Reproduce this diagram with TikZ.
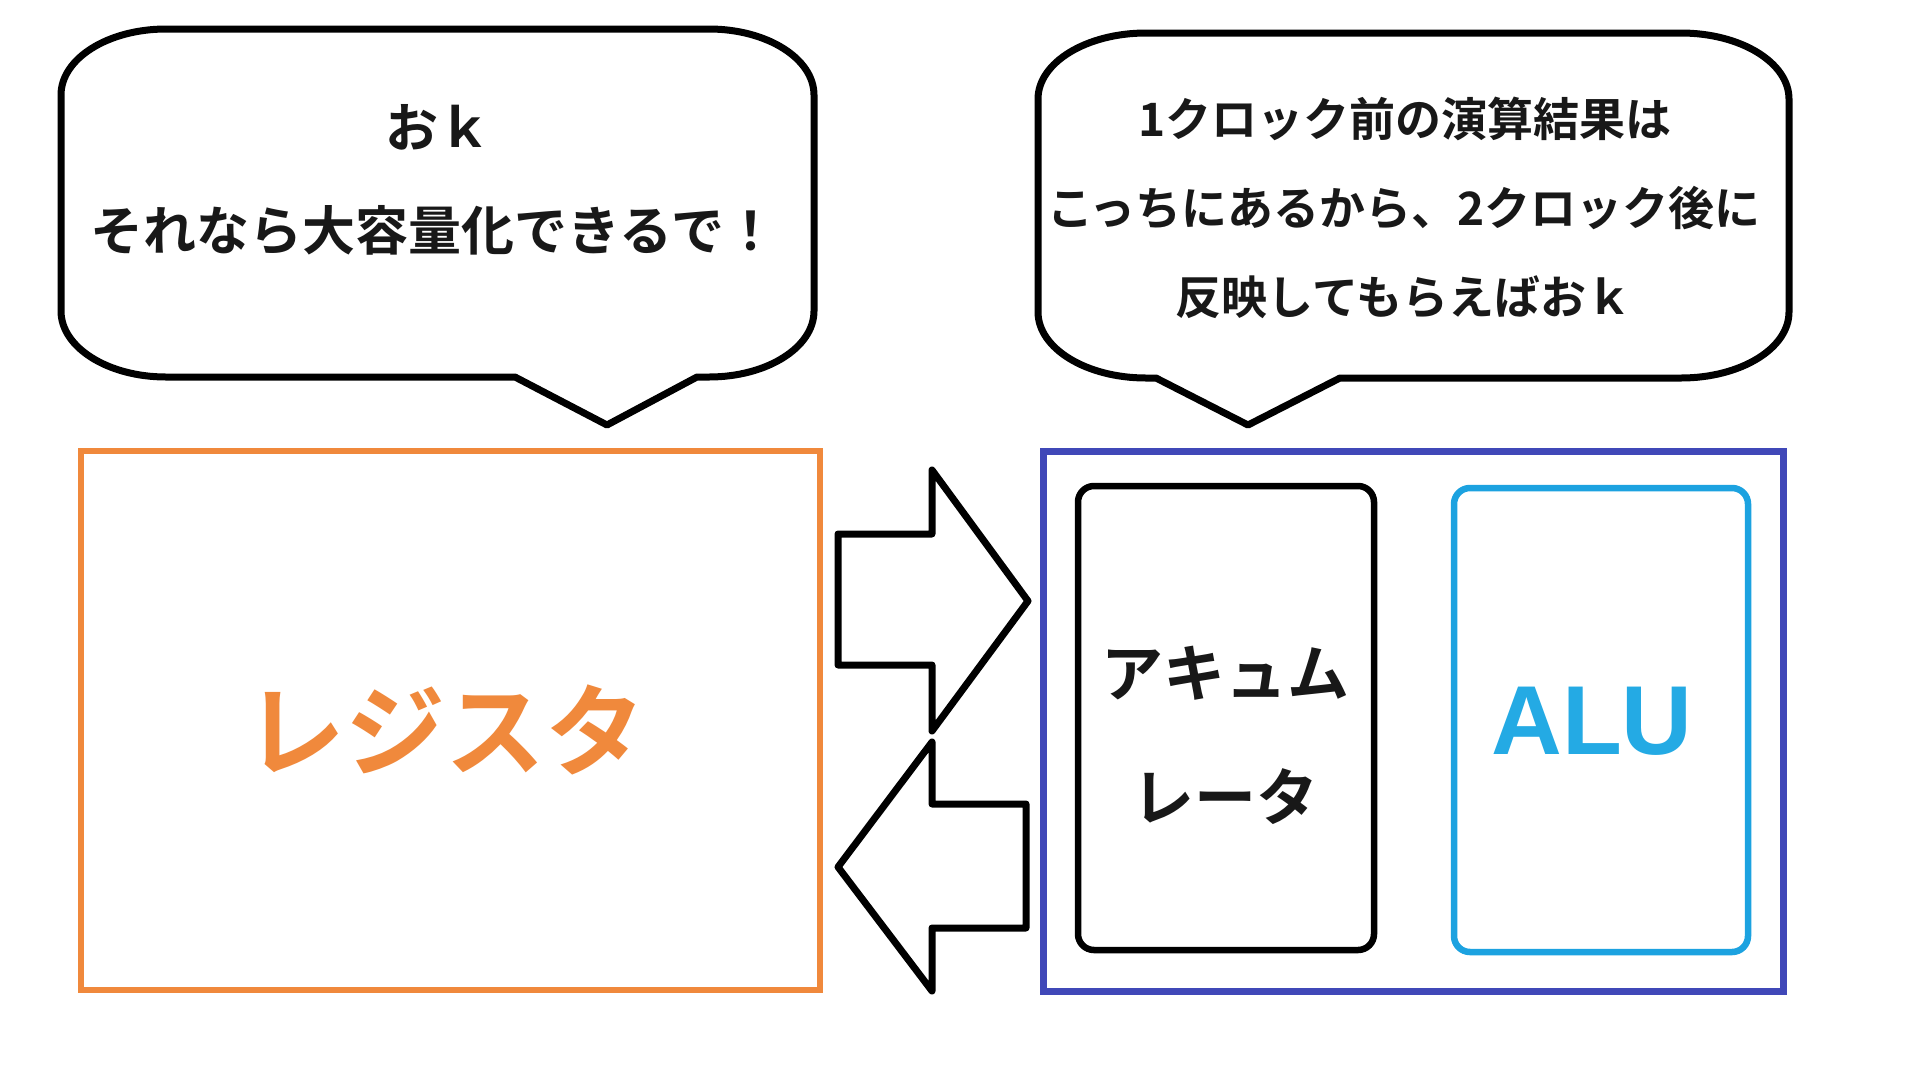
\documentclass[tikz,border=0pt]{standalone}
\usepackage{fontspec}
\newfontfamily\jp{Noto Sans CJK JP}[BoldFont={Noto Sans CJK JP Bold}]
\newfontfamily\lib{Liberation Sans}
\definecolor{regorange}{RGB}{240,137,60}
\definecolor{cpublue}{RGB}{64,72,184}
\definecolor{alucyan}{RGB}{28,162,224}
\definecolor{alutext}{RGB}{36,170,228}
\definecolor{inkblack}{RGB}{24,24,24}
\begin{document}
\begin{tikzpicture}[x=1pt,y=-1pt,
  bubble/.style={draw=black,line width=7,fill=white,line join=round},
  blockarrow/.style={draw=black,line width=7,fill=white,line join=round},
  bubtxt/.style={inner sep=0,text=inkblack},
  regbox/.style={draw=regorange,line width=6.5},
  cpubox/.style={draw=cpublue,line width=7},
  accbox/.style={draw=black,line width=6.5,rounded corners=16},
  alubox/.style={draw=alucyan,line width=6.5,rounded corners=16}]
\useasboundingbox (0,0) rectangle (1920,1080);
\fill[white] (0,0) rectangle (1920,1080);

% left speech bubble
\draw[bubble] (166,29) -- (709,29)
  arc[start angle=270,end angle=360,x radius=105,y radius=66] -- (814,311)
  arc[start angle=0,end angle=90,x radius=105,y radius=66] -- (697,377) -- (607,425) -- (515,377) -- (166,377)
  arc[start angle=90,end angle=180,x radius=105,y radius=66] -- (61,95)
  arc[start angle=180,end angle=270,x radius=105,y radius=66] -- cycle;
\node[bubtxt,font={\jp\bfseries\fontsize{53}{60}\selectfont}] (lb1) at (438,127) {おｋ};
\node[bubtxt,font={\jp\bfseries\fontsize{53}{60}\selectfont}] (lb2) at (434,230) {それなら大容量化できるで！};

% right speech bubble
\draw[bubble] (1146,33) -- (1681,33)
  arc[start angle=270,end angle=360,x radius=108,y radius=66] -- (1789,312)
  arc[start angle=0,end angle=90,x radius=108,y radius=66] -- (1340,378) -- (1248,425) -- (1156,378) -- (1146,378)
  arc[start angle=90,end angle=180,x radius=108,y radius=66] -- (1038,99)
  arc[start angle=180,end angle=270,x radius=108,y radius=66] -- cycle;
\node[bubtxt,font={\jp\bfseries\fontsize{46}{54}\selectfont}] (rb1) at (1405,119) {1クロック前の演算結果は};
\node[bubtxt,font={\jp\bfseries\fontsize{46}{54}\selectfont}] (rb2) at (1404,208) {こっちにあるから、2クロック後に};
\node[bubtxt,font={\jp\bfseries\fontsize{46}{54}\selectfont}] (rb3) at (1404,297) {反映してもらえばおｋ};

% register
\draw[regbox] (81,451) rectangle (820,990);
\node[inner sep=0,text=regorange,font={\jp\bfseries\fontsize{100}{110}\selectfont}] (reg) at (445,730) {レジスタ};

% CPU side
\draw[cpubox] (1043,451) rectangle (1783,991);
\draw[accbox] (1078,486) rectangle (1374,950);
\node[inner sep=0,text=inkblack,font={\jp\bfseries\fontsize{62}{70}\selectfont}] (acc1) at (1225,673) {アキュム};
\node[inner sep=0,text=inkblack,font={\jp\bfseries\fontsize{62}{70}\selectfont}] (acc2) at (1225,797) {レータ};
\draw[alubox] (1454,488) rectangle (1748,952);
\node[inner sep=0,text=alutext,font={\lib\bfseries\fontsize{98}{110}\selectfont}] (alu) at (1592,721) {ALU};

% block arrows
\draw[blockarrow] (838,534) -- (932,534) -- (932,470) -- (1028,601) -- (932,731) -- (932,665) -- (838,665) -- cycle;
\draw[blockarrow] (1026,804) -- (932,804) -- (932,742) -- (838,867) -- (932,991) -- (932,928) -- (1026,928) -- cycle;
\end{tikzpicture}
\end{document}
